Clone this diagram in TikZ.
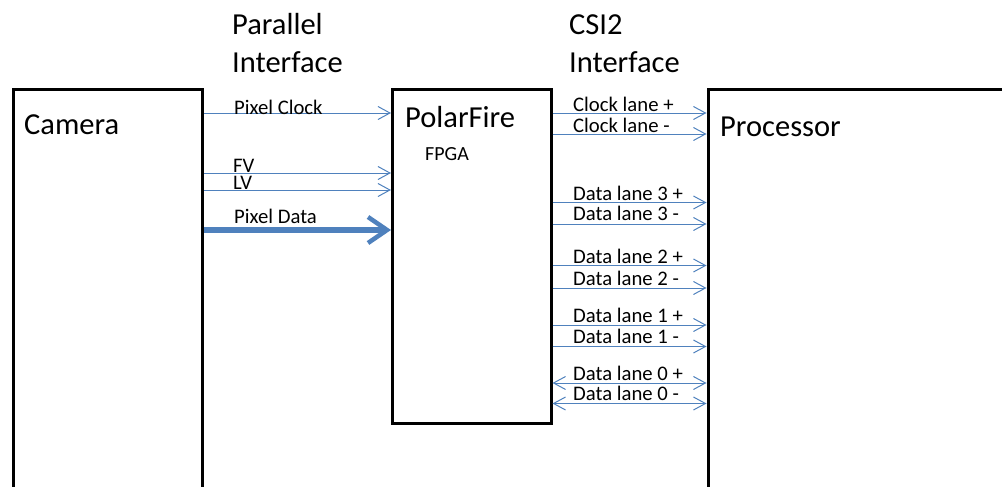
\documentclass[tikz,border=0pt]{standalone}
\usepackage{fontspec}
\setmainfont{Carlito}
\usetikzlibrary{arrows.meta}
\definecolor{lanec}{RGB}{79,129,189}
\tikzset{
  box/.style={draw=black, line width=3pt, rectangle, inner sep=0pt, anchor=north west},
  big/.style={font=\fontsize{30.5}{36}\selectfont, inner sep=0pt, anchor=base west},
  small/.style={font=\fontsize{20.7}{24}\selectfont, inner sep=0pt, anchor=base west},
  conn/.style={draw=lanec, line width=1pt, -{Straight Barb[length=12pt,width=13pt,line width=1pt]}},
  bconn/.style={draw=lanec, line width=1pt, {Straight Barb[length=12pt,width=13pt,line width=1pt]}-{Straight Barb[length=12pt,width=13pt,line width=1pt]}},
  thick conn/.style={draw=lanec, line width=5.5pt, -{Straight Barb[length=19pt,width=26pt,line width=4.5pt]}},
}
\begin{document}
\begin{tikzpicture}[x=1pt,y=-1pt]
\path[use as bounding box] (0,0) rectangle (1002,487);
\clip (0,0) rectangle (1002,487);
% boxes
\node[box, minimum width=189.5pt, minimum height=440pt] (cam) at (11.5,88.5) {};
\node[box, minimum width=158.5pt, minimum height=333.5pt] (fpga) at (391,88.5) {};
\node[box, minimum width=340pt, minimum height=440pt] (proc) at (706.5,88.5) {};
% box texts
\node[big] (camt) at (24,135) {Camera};
\node[big] (fpgat) at (405,128) {PolarFire};
\node[small, font=\fontsize{20}{24}\selectfont] (fpgat2) at (425,160) {FPGA};
\node[big] (proct) at (720,136) {Processor};
% headings
\node[big] (par1) at (232,35) {Parallel};
\node[big] (par2) at (232,73) {Interface};
\node[big] (csi1) at (569,35) {CSI2};
\node[big] (csi2) at (569,73) {Interface};
% left connectors
\draw[conn] (cam.east |- 0,113) -- (fpga.west |- 0,113);
\draw[conn] (cam.east |- 0,173) -- (fpga.west |- 0,173);
\draw[conn] (cam.east |- 0,190) -- (fpga.west |- 0,190);
\draw[thick conn] (cam.east |- 0,230) -- (fpga.west |- 0,230);
\node[small] (lpc) at (234,114) {Pixel Clock};
\node[small] (lfv) at (233,172) {FV};
\node[small] (llv) at (233,189) {LV};
\node[small] (lpd) at (234,223) {Pixel Data};
% right connectors
\draw[conn] (fpga.east |- 0,113) -- (proc.west |- 0,113);
\draw[conn] (fpga.east |- 0,134) -- (proc.west |- 0,134);
\draw[conn] (fpga.east |- 0,202.5) -- (proc.west |- 0,202.5);
\draw[conn] (fpga.east |- 0,224) -- (proc.west |- 0,224);
\draw[conn] (fpga.east |- 0,265.5) -- (proc.west |- 0,265.5);
\draw[conn] (fpga.east |- 0,288) -- (proc.west |- 0,288);
\draw[conn] (fpga.east |- 0,325) -- (proc.west |- 0,325);
\draw[conn] (fpga.east |- 0,346.5) -- (proc.west |- 0,346.5);
\draw[bconn] (fpga.east |- 0,383) -- (proc.west |- 0,383);
\draw[bconn] (fpga.east |- 0,403.5) -- (proc.west |- 0,403.5);
\node[small] (rcp) at (573,111.5) {Clock lane +};
\node[small] (rcm) at (573,132) {Clock lane -};
\node[small] (r3p) at (573,200) {Data lane 3 +};
\node[small] (r3m) at (573,220.5) {Data lane 3 -};
\node[small] (r2p) at (573,263) {Data lane 2 +};
\node[small] (r2m) at (573,285) {Data lane 2 -};
\node[small] (r1p) at (573,322.5) {Data lane 1 +};
\node[small] (r1m) at (573,343.5) {Data lane 1 -};
\node[small] (r0p) at (573,380.5) {Data lane 0 +};
\node[small] (r0m) at (573,400.5) {Data lane 0 -};
\end{tikzpicture}
\end{document}
